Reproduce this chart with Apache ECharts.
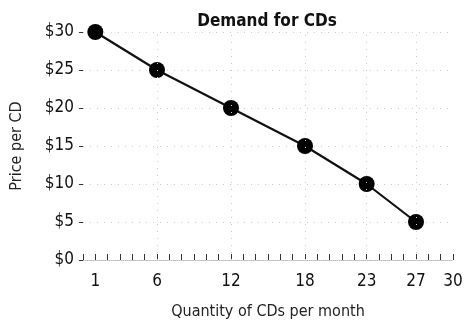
<!DOCTYPE html>
<html>
<head>
<meta charset="utf-8">
<script src="https://cdn.jsdelivr.net/npm/echarts@6/dist/echarts.min.js"></script>
<style>
  html, body { margin: 0; padding: 0; background: #fff; }
  #chart { width: 466px; height: 321px; }
</style>
</head>
<body>
<div id="chart"></div>
<script>
// Demand schedule for CDs: quantity demanded at each price
const quantities = [1, 6, 12, 18, 23, 27];
const prices = [30, 25, 20, 15, 10, 5];
// Labelled positions along the quantity axis
const xTickLabels = [1, 6, 12, 18, 23, 27, 30];
const yTickLabels = [0, 5, 10, 15, 20, 25, 30];

const FONT = '"Liberation Sans Narrow", "DejaVu Sans Condensed", "Roboto Condensed", sans-serif';
const chart = echarts.init(document.getElementById('chart'), null, { renderer: 'canvas' });

const points = quantities.map((q, i) => [q, prices[i]]);

chart.setOption({
  animation: false,
  backgroundColor: '#ffffff',
  title: {
    text: 'Demand for CDs',
    left: 262, top: 8, textAlign: 'center',
    textStyle: { fontFamily: FONT, fontWeight: 'bold', fontSize: 17, color: '#111' }
  },
  grid: { left: 83, right: 13, top: 32, bottom: 61, containLabel: false, outerBoundsMode: 'none' },
  xAxis: {
    type: 'value', min: 0, max: 30, interval: 1,
    name: 'Quantity of CDs per month', nameLocation: 'middle', nameGap: 44,
    nameTextStyle: { fontFamily: FONT, fontSize: 16, color: '#222' },
    axisLine: { show: true, lineStyle: { color: '#bbb', width: 1, type: 'dotted' } },
    axisTick: { show: true, inside: true, length: 6, lineStyle: { color: '#333', width: 1 } },
    axisLabel: {
      fontFamily: FONT, fontSize: 17, color: '#111', margin: 13,
      formatter: v => (xTickLabels.includes(v) ? String(v) : '')
    },
    splitLine: { show: false }
  },
  yAxis: {
    type: 'value', min: 0, max: 30, interval: 5,
    name: 'Price per CD', nameLocation: 'middle', nameGap: 58,
    nameTextStyle: { fontFamily: FONT, fontSize: 16, color: '#222' },
    axisLine: { show: false },
    axisTick: { show: true, length: 4, lineStyle: { color: '#333', width: 1 } },
    axisLabel: {
      fontFamily: FONT, fontSize: 17, color: '#111', margin: 9,
      formatter: v => (yTickLabels.includes(v) ? '$' + v : '')
    },
    splitLine: { show: true, lineStyle: { color: '#ccc', width: 1, type: [1, 6] } }
  },
  series: [{
    type: 'line',
    data: points,
    symbol: 'circle', symbolSize: 16,
    itemStyle: { color: '#000' },
    lineStyle: { color: '#111', width: 2.2 },
    markLine: {
      silent: true, symbol: 'none', label: { show: false },
      lineStyle: { color: '#ccc', width: 1, type: [1, 6] },
      data: xTickLabels.slice(1, 6).map(v => ({ xAxis: v }))
    }
  }]
});
</script>
</body>
</html>
